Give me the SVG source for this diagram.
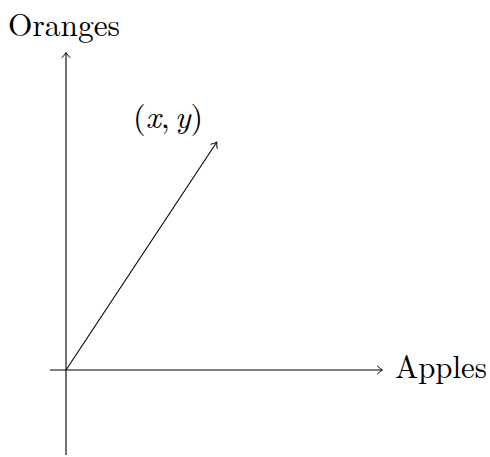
<svg xmlns="http://www.w3.org/2000/svg" width="490" height="457" viewBox="0 0 490 457">
<defs>
<marker id="to" viewBox="-6 -5 8 10" markerWidth="8" markerHeight="10" refX="0" refY="0" orient="auto" markerUnits="userSpaceOnUse">
<path d="M-4.5,-3.8 Q-1.5,-1 0.5,0 Q-1.5,1 -4.5,3.8" fill="none" stroke="#000" stroke-width="1" stroke-linecap="round"/>
</marker>
</defs>
<style>
.ax{stroke:#000;stroke-width:1.1;fill:none}
.lbl{font-family:"Latin Modern Roman","CMU Serif","Liberation Serif",serif;font-size:31.5px;fill:#000}
.m{font-style:italic}
</style>
<rect width="490" height="457" fill="#fff"/>
<g id="connectors">
<line class="ax" x1="50" y1="370" x2="382" y2="370" marker-end="url(#to)"/>
<line class="ax" x1="66" y1="455" x2="66" y2="53" marker-end="url(#to)"/>
<line class="ax" x1="66" y1="370" x2="216.5" y2="142.5" marker-end="url(#to)"/>
</g>
<g id="oranges"><text class="lbl" x="8" y="36" textLength="112" lengthAdjust="spacingAndGlyphs">Oranges</text></g>
<g id="apples"><text class="lbl" x="395" y="378" textLength="92" lengthAdjust="spacingAndGlyphs">Apples</text></g>
<g id="point"><text class="lbl" x="133" y="128" style="font-size:32.5px">(<tspan class="m">x</tspan>,<tspan class="m" dx="5">y</tspan>)</text></g>
</svg>
